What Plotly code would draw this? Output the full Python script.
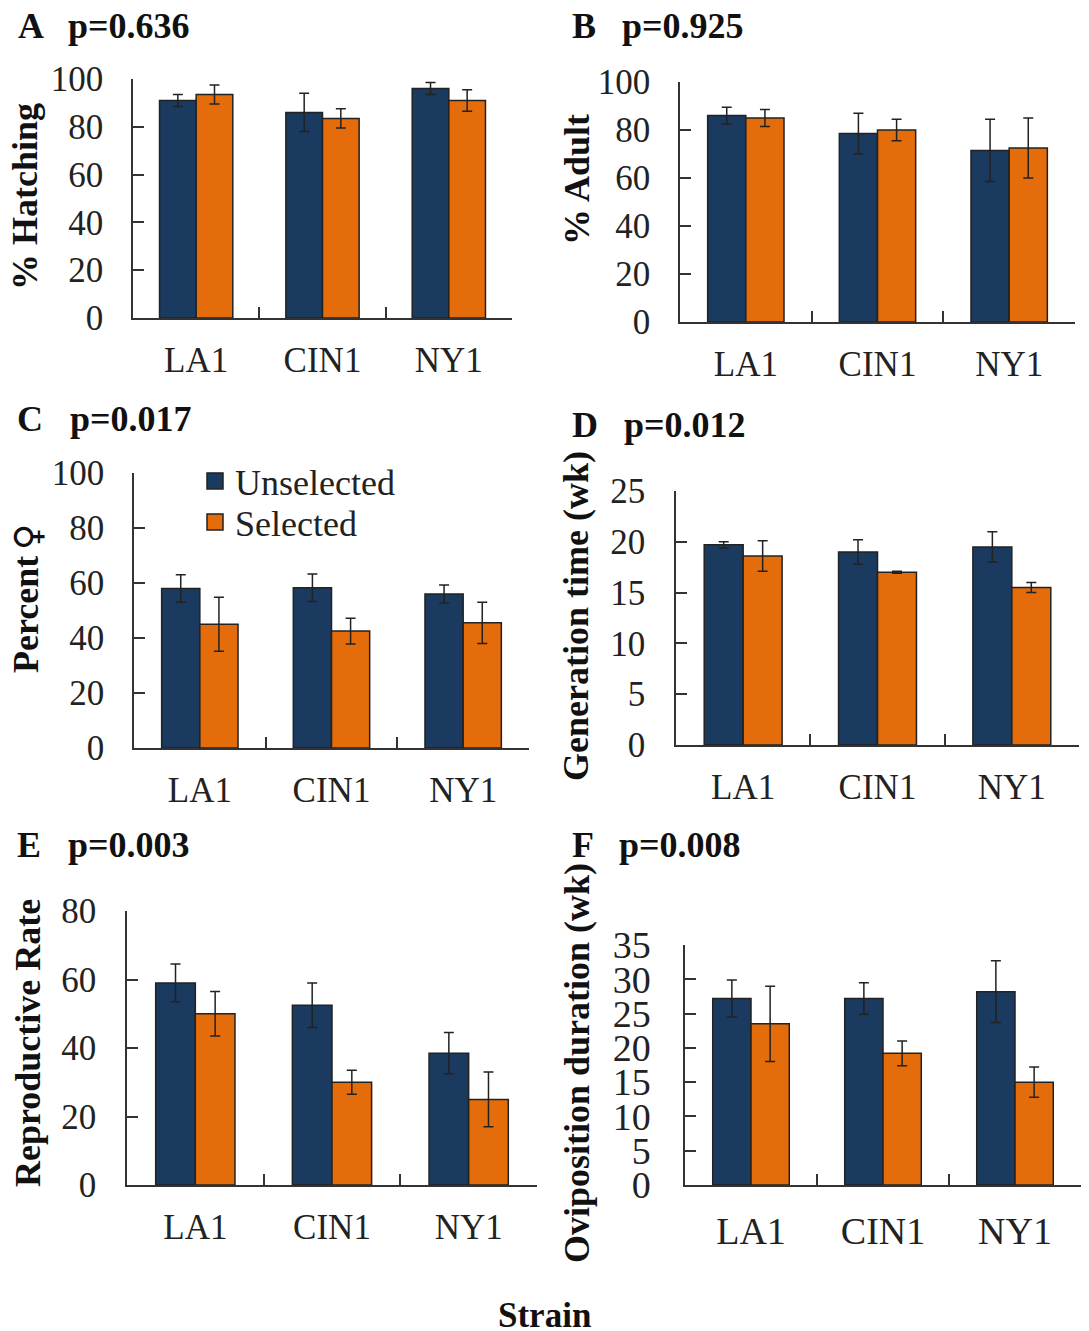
import plotly.graph_objects as go

# The browser page adds an 8 px body margin, so the figure is 8 px smaller than the window.
PAGE_W, PAGE_H, INSET = 1089, 1331, 8
W, H = PAGE_W - INSET, PAGE_H - INSET
# Plot area (page px) enclosing all axes; generous margins keep the legends from pushing it.
L, R, T, B = 120, 1083, 79, 1185
strains = ["LA1", "CIN1", "NY1"]
series_names = ["Unselected", "Selected"]

a_unsel = [91, 86, 96]
a_sel = [93.5, 83.5, 91]
a_unsel_err = [2.5, 8, 2.5]
a_sel_err = [4, 4, 4.5]

b_unsel = [86, 78.5, 71.5]
b_sel = [85, 80, 72.5]
b_unsel_err = [3.5, 8.5, 13]
b_sel_err = [3.5, 4.5, 12.5]

c_unsel = [58, 58.3, 56]
c_sel = [45, 42.5, 45.5]
c_unsel_err = [5, 5, 3.3]
c_sel_err = [9.8, 4.7, 7.5]

d_unsel = [19.7, 19, 19.5]
d_sel = [18.6, 17, 15.5]
d_unsel_err = [0.3, 1.2, 1.5]
d_sel_err = [1.5, 0.1, 0.5]

e_unsel = [59, 52.5, 38.5]
e_sel = [50, 30, 25]
e_unsel_err = [5.5, 6.5, 6]
e_sel_err = [6.5, 3.5, 8]

f_unsel = [27.2, 27.2, 28.2]
f_sel = [23.5, 19.2, 15]
f_unsel_err = [2.7, 2.3, 4.5]
f_sel_err = [5.5, 1.8, 2.2]

panels = [
    dict(id="", box=(133, 512, 79, 318), u=a_unsel, s=a_sel, ue=a_unsel_err, se=a_sel_err,
         ymax=100, dtick=20, size=35, xoff=10, yoff=21),
    dict(id="2", box=(680, 1075, 82, 322), u=b_unsel, s=b_sel, ue=b_unsel_err, se=b_sel_err,
         ymax=100, dtick=20, size=35, xoff=10, yoff=21),
    dict(id="3", box=(134, 529, 473, 748), u=c_unsel, s=c_sel, ue=c_unsel_err, se=c_sel_err,
         ymax=100, dtick=20, size=35, xoff=10, yoff=21),
    dict(id="4", box=(676, 1079, 491, 745), u=d_unsel, s=d_sel, ue=d_unsel_err, se=d_sel_err,
         ymax=25, dtick=5, size=35, xoff=10, yoff=22),
    dict(id="5", box=(127, 537, 911, 1185), u=e_unsel, s=e_sel, ue=e_unsel_err, se=e_sel_err,
         ymax=80, dtick=20, size=35, xoff=10, yoff=22),
    dict(id="6", box=(685, 1081, 945, 1185), u=f_unsel, s=f_sel, ue=f_unsel_err, se=f_sel_err,
         ymax=35, dtick=5, size=38, xoff=12, yoff=25),
]

NAVY, ORANGE, INK = "#1a3a60", "#e46c0a", "#222222"
SERIF = "Liberation Serif"


def fx(px):
    return (px - L) / (R - L)


def fy(py):
    return (B - py) / (B - T)


fig = go.Figure()
layout = {}
for p in panels:
    x0, x1, yt, yb = p["box"]
    xa, ya = "x" + p["id"], "y" + p["id"]
    for name, vals, errs, col in ((series_names[0], p["u"], p["ue"], NAVY),
                                  (series_names[1], p["s"], p["se"], ORANGE)):
        fig.add_trace(go.Bar(
            x=strains, y=vals, name=name, xaxis=xa, yaxis=ya, showlegend=False,
            marker=dict(color=col, line=dict(color=INK, width=1.5)),
            error_y=dict(type="data", array=errs, visible=True, color=INK, thickness=1.5, width=5),
        ))
    layout["xaxis" + p["id"]] = dict(
        domain=[fx(x0), fx(x1)], anchor=ya, type="category", categoryorder="array",
        categoryarray=strains, range=[-0.5, 2.5], tickson="boundaries", ticks="inside",
        ticklen=11, tickwidth=1.5, tickcolor="#333333", showline=True, linecolor="#333333",
        linewidth=1.5, showgrid=False, zeroline=False, ticklabelstandoff=p["xoff"], tickangle=0,
        tickfont=dict(family=SERIF, size=p["size"], color="#222222"),
    )
    layout["yaxis" + p["id"]] = dict(
        domain=[fy(yb), fy(yt)], anchor=xa, range=[0, p["ymax"]], dtick=p["dtick"],
        tick0=0, ticks="inside", ticklen=11, tickwidth=1.5, tickcolor="#333333", showline=True,
        linecolor="#333333", linewidth=1.5, showgrid=False, zeroline=False, ticklabelstandoff=p["yoff"],
        tickfont=dict(family=SERIF, size=p["size"], color="#222222"),
    )

for name, col, leg in zip(series_names, (NAVY, ORANGE), ("legend", "legend2")):
    fig.add_trace(go.Scatter(
        x=strains, y=[None] * 3, mode="markers", name=name, xaxis="x3", yaxis="y3", legend=leg,
        marker=dict(symbol="square", size=19, color=col, line=dict(color=INK, width=1.5)),
    ))


def note(text, x, y, size=36, bold=True, angle=0, anchor="left", family=SERIF):
    fig.add_annotation(
        text=f"<b>{text}</b>" if bold else text, x=fx(x), y=fy(y), xref="paper", yref="paper",
        xanchor=anchor, yanchor="middle", showarrow=False, textangle=angle,
        font=dict(family=family, size=size, color="#111111"),
    )


for letter, lx, ptxt, px, y in (("A", 16, "p=0.636", 66, 26), ("B", 570, "p=0.925", 620, 26),
                                ("C", 15, "p=0.017", 68, 419), ("D", 570, "p=0.012", 622, 425),
                                ("E", 15, "p=0.003", 66, 845), ("F", 570, "p=0.008", 617, 845)):
    note(letter, lx, y)
    note(ptxt, px, y)

note("% Hatching", 25, 197, angle=-90, anchor="center")
note("% Adult", 577, 180, angle=-90, anchor="center")
note("Percent", 26, 615, angle=-90, anchor="center")
note("\u2640", 27, 537, bold=False, angle=-90, anchor="center", family="DejaVu Sans")
note("Generation time (wk)", 576, 616, angle=-90, anchor="center")
note("Reproductive Rate", 28, 1043, angle=-90, anchor="center")
note("Oviposition duration (wk)", 577, 1063, angle=-90, anchor="center")
note("Strain", 544, 1315, size=35, anchor="center")


def legend_at(y):
    return dict(x=fx(195), y=fy(y), xanchor="left", yanchor="middle", bgcolor="rgba(0,0,0,0)",
                font=dict(family=SERIF, size=36, color="#222222"), itemwidth=30)


fig.update_layout(
    width=W, height=H, autosize=False,
    margin=dict(l=L - INSET, r=W - (R - INSET), t=T - INSET, b=H - (B - INSET), pad=0),
    paper_bgcolor="white", plot_bgcolor="white", barmode="group", bargap=0.42, bargroupgap=0,
    legend=legend_at(481), legend2=legend_at(522),
    **layout,
)
fig.write_html("out.html")
